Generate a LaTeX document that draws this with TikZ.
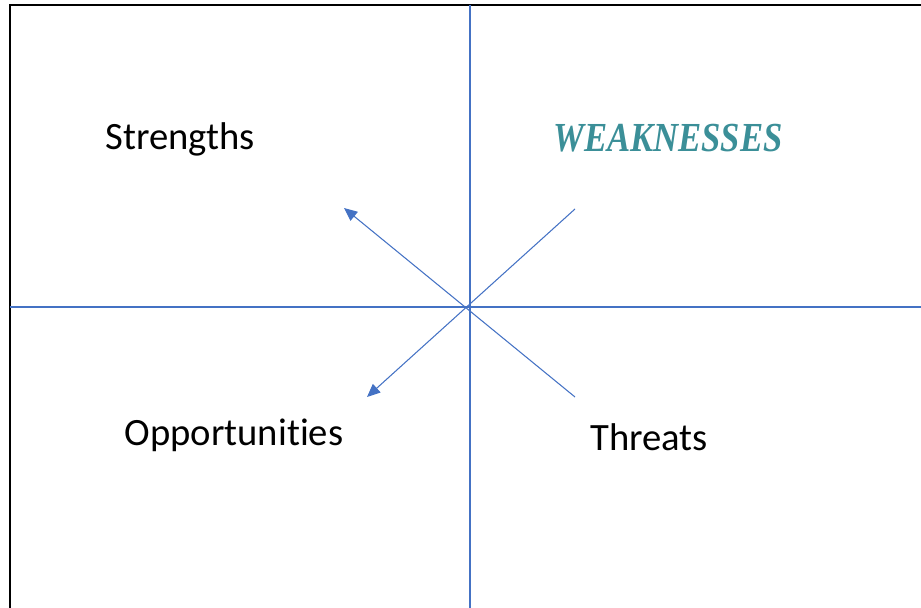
\documentclass[tikz,border=0pt]{standalone}
\usepackage{fontspec}
\setmainfont{Carlito}[Ligatures=NoCommon]
\newfontfamily\weakfont{Liberation Serif}
\usetikzlibrary{arrows.meta}
\definecolor{axisblue}{RGB}{68,114,196}
\definecolor{weakteal}{RGB}{59,143,152}
\tikzset{every path/.style={axisblue, line width=0.6pt},
  swot/.style={inner sep=0pt, anchor=base, text=black, font=\fontsize{22}{26}\selectfont},
  pointer/.style={-{Triangle[length=7.5pt, width=6.5pt]}}}

\begin{document}
\begin{tikzpicture}[x=0.02cm, y=-0.02cm]
   \useasboundingbox (0,0) rectangle (921,608);
   % frame and axes
   \draw[black, line width=1.1pt] (10,608) -- (10,5) -- (921,5);
   \draw (470,5) -- (470,608);
   \draw (10,307) -- (921,307);
   % crossing pointers
   \coordinate (ne) at (575,209);
   \coordinate (sw) at (367,397);
   \coordinate (se) at (575,397);
   \coordinate (nw) at (344,208);
   \draw[pointer] (ne) -- (sw);
   \draw[pointer] (se) -- (nw);
   % labels
   \node[swot] (s) at (180,150) {Strengths};
   \node[swot, text=weakteal, font=\fontsize{23.5}{27}\weakfont\bfseries\itshape] (w) at (668,152) {\scalebox{0.84}[1]{WEAKNESSES}};
   \node[swot] (o) at (234,445) {Opportunities};
   \node[swot] (t) at (649,451) {Threats};
\end{tikzpicture}
\end{document}
